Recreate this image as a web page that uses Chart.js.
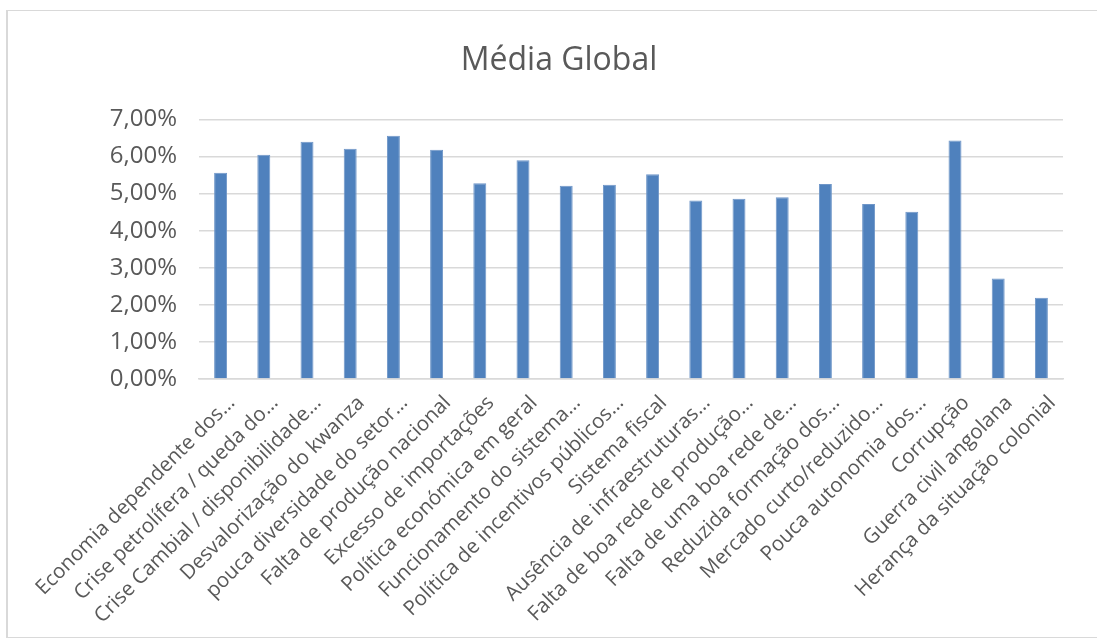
<!DOCTYPE html>
<html>
<head>
<meta charset="utf-8">
<script src="https://cdn.jsdelivr.net/npm/chart.js@4"></script>
<style>
  html, body { margin: 0; padding: 0; background: #fff; }
  .frame {
    position: absolute; left: 6px; top: 10px; width: 1100px; height: 628px;
    border: 1px solid #d9d9d9; border-left-width: 2px; box-sizing: border-box;
  }
  .chart-box { position: absolute; left: 0; top: 0; width: 1097px; height: 641px; }
</style>
</head>
<body>
<div class="frame"></div>
<div class="chart-box"><canvas id="chart"></canvas></div>
<script>
const categories = [
  "Economia dependente dos…",
  "Crise petrolífera / queda do…",
  "Crise Cambial / disponibilidade…",
  "Desvalorização do kwanza",
  "pouca diversidade do setor…",
  "Falta de produção nacional",
  "Excesso de importações",
  "Política económica em geral",
  "Funcionamento do sistema…",
  "Política de incentivos públicos…",
  "Sistema fiscal",
  "Ausência de infraestruturas…",
  "Falta de boa rede de produção…",
  "Falta de uma boa rede de…",
  "Reduzida formação dos…",
  "Mercado curto/reduzido…",
  "Pouca autonomia dos…",
  "Corrupção",
  "Guerra civil angolana",
  "Herança da situação colonial"
];

// média global, em %
const mediaGlobal = [5.56, 6.05, 6.40, 6.21, 6.56, 6.18, 5.28, 5.90, 5.21, 5.24,
                     5.52, 4.81, 4.86, 4.90, 5.26, 4.72, 4.51, 6.43, 2.71, 2.19];

const yTicks = [0, 1, 2, 3, 4, 5, 6, 7];

const textColor = "#595959";
const gridColor = "#d9d9d9";

const ctx = document.getElementById("chart").getContext("2d");
new Chart(ctx, {
  type: "bar",
  data: {
    labels: categories,
    datasets: [{
      label: "Média Global",
      data: mediaGlobal,
      backgroundColor: "#4f81bd",
      borderColor: "#6f96c8",
      borderWidth: 1,
      barPercentage: 0.3,
      categoryPercentage: 1.0
    }]
  },
  options: {
    responsive: true,
    maintainAspectRatio: false,
    animation: false,
    layout: { padding: { left: 21, right: 0, top: 0, bottom: 0 } },
    plugins: {
      legend: { display: false },
      tooltip: { enabled: false },
      title: {
        display: true,
        text: "Média Global",
        color: textColor,
        font: { family: "Open Sans", size: 32, weight: "normal" },
        padding: { top: 42, bottom: 39 }
      }
    },
    scales: {
      x: {
        grid: { display: false, drawTicks: false },
        border: { display: true, color: gridColor, width: 1.5 },
        ticks: {
          color: textColor,
          font: { family: "Open Sans", size: 20.5 },
          maxRotation: 45,
          minRotation: 45,
          autoSkip: false,
          padding: 12,
          labelOffset: 11
        },
        afterFit: (scale) => { scale.height = 262; }
      },
      y: {
        min: 0,
        max: 7,
        afterBuildTicks: (scale) => { scale.ticks = yTicks.map(v => ({ value: v })); },
        grid: { color: gridColor, lineWidth: 1.5, drawTicks: false },
        border: { display: false },
        ticks: {
          color: textColor,
          font: { family: "Open Sans", size: 24 },
          padding: 22,
          callback: (v) => v.toFixed(2).replace(".", ",") + "%"
        },
        afterFit: (scale) => { scale.width = 178; }
      },
      // eixo vazio à direita só para deixar a margem
      yRight: {
        position: "right",
        min: 0,
        max: 7,
        grid: { drawOnChartArea: false, drawTicks: false },
        border: { display: false },
        ticks: { display: false },
        afterFit: (scale) => { scale.width = 34; }
      }
    }
  }
});
</script>
</body>
</html>
